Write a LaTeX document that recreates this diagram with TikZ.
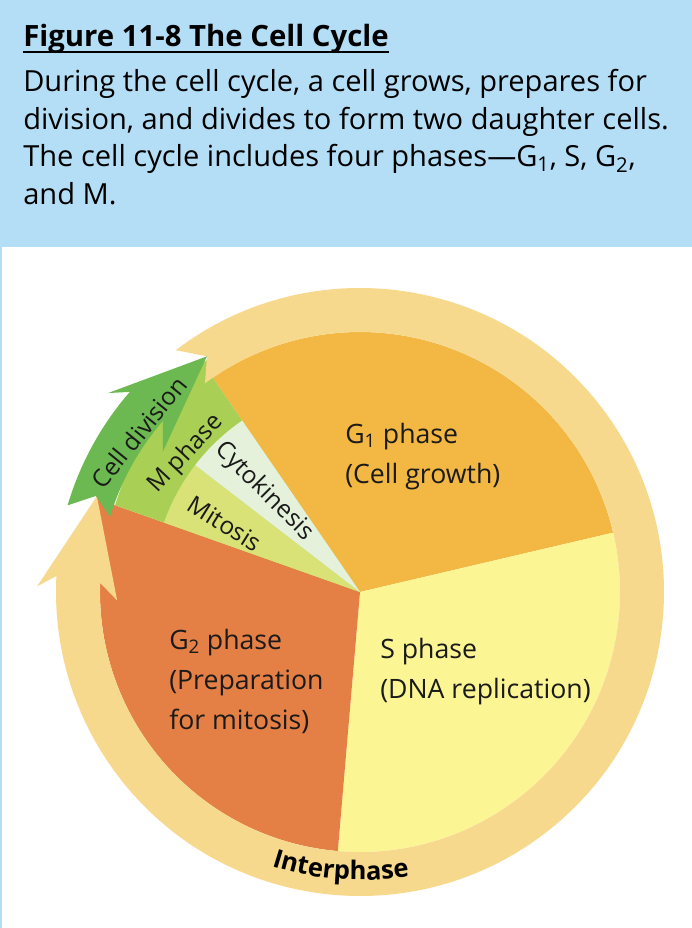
\documentclass[tikz,border=0pt]{standalone}
\usepackage{fontspec}
\setmainfont{Open Sans}
\usetikzlibrary{decorations.text}
\definecolor{panelblue}{HTML}{B4DEF5}
\definecolor{gonecol}{HTML}{F2B843}
\definecolor{scol}{HTML}{FBF594}
\definecolor{gtwocol}{HTML}{E47F45}
\definecolor{ringcol}{HTML}{F7D98D}
\definecolor{divgreen}{HTML}{6CB851}
\definecolor{mphasecol}{HTML}{A9CF54}
\definecolor{mitosiscol}{HTML}{D8E276}
\definecolor{cytocol}{HTML}{E5F1DB}
\definecolor{inktext}{HTML}{1A1A1A}
\tikzset{
  bodyline/.style={anchor=base west,inner sep=0pt,text=black,font=\fontsize{21.8}{26}\selectfont},
  pielabel/.style={anchor=west,align=left,inner sep=0pt,text=inktext,font=\fontsize{20}{30}\selectfont},
  sublabel/.style={inner sep=0pt,text=inktext,font=\fontsize{18.3}{18.3}\selectfont}
}
\begin{document}
\begin{tikzpicture}[x=0.75pt,y=0.75pt]
  \useasboundingbox (-360,-336) rectangle (332,592);
  % caption panel
  \fill[panelblue] (-360,345) rectangle (332,592);
  \fill[panelblue] (-360,-336) rectangle (-357.5,345);
  \node[bodyline,font=\fontsize{22}{26}\selectfont\bfseries] (title) at (-337,545) {Figure 11-8 The Cell Cycle};
  \draw[line width=1.1pt] ([yshift=-3.8pt]title.base west) -- ([yshift=-3.8pt]title.base east);
  \node[bodyline] (lineA) at (-337,500) {During the cell cycle, a cell grows, prepares for};
  \node[bodyline] (lineB) at (-337,462) {division, and divides to form two daughter cells.};
  \node[bodyline] (lineC) at (-337,425) {The cell cycle includes four phases—G\textsubscript{1}, S, G\textsubscript{2},};
  \node[bodyline] (lineD) at (-337,387) {and M.};
  % pie wedges
  \fill[gonecol] (0,0) -- (13.2:260) arc[start angle=13.2,end angle=124.5,radius=260] -- cycle;
  \fill[scol] (0,0) -- (-94.9:260) arc[start angle=-94.9,end angle=13.2,radius=260] -- cycle;
  \fill[gtwocol] (0,0) -- (160.5:260) -- (160:281) -- (175:265) -- (175:260) arc[start angle=175,end angle=265.1,radius=260] -- cycle;
  \fill[mphasecol] (0,0) -- (124.5:260) -- (123.5:278) -- (140:278) -- (160.5:260) -- cycle;
  \fill[mitosiscol] (0,0) -- (142.4:208) arc[start angle=142.4,end angle=160.5,radius=208] -- cycle;
  \fill[cytocol] (0,0) -- (124.5:208) arc[start angle=124.5,end angle=142.4,radius=208] -- cycle;
  % interphase ring
  \fill[ringcol] (127.3:304) arc[start angle=127.3,end angle=-183,radius=304] -- (-181:323) -- (-200:280) -- (-178:243) -- (-182:260) arc[start angle=-182,end angle=126.6,radius=260] -- (123:281) -- cycle;
  % cell division arrow
  \fill[divgreen] (163.5:305) arc[start angle=163.5,end angle=139,radius=305] -- (141.7:321) -- (123:281) -- (144.6:242) -- (139:261) arc[start angle=139,end angle=163.3,radius=261] -- (160:281) -- cycle;
  % labels
  \node[sublabel,rotate=51] (celldiv) at (-221,160) {Cell division};
  \node[sublabel,rotate=47] (mphase) at (-174,138) {M phase};
  \node[sublabel,rotate=-45] (cyto) at (-96,100.5) {Cytokinesis};
  \node[sublabel,rotate=-32] (mito) at (-135,68.5) {Mitosis};
  \node[pielabel] (gone) at (-15,135.5) {G\textsubscript{1} phase\\(Cell growth)};
  \node[pielabel] (sphase) at (20,-80) {S phase\\(DNA replication)};
  \node[pielabel] (gtwo) at (-191,-89) {G\textsubscript{2} phase\\(Preparation\\for mitosis)};
  \path[decorate,decoration={text along path,text align=center,
    text={|\fontsize{19.2}{19.2}\selectfont\bfseries|Interphase}}]
    (-124:288) arc[start angle=-124,end angle=-64,radius=288];
\end{tikzpicture}
\end{document}
